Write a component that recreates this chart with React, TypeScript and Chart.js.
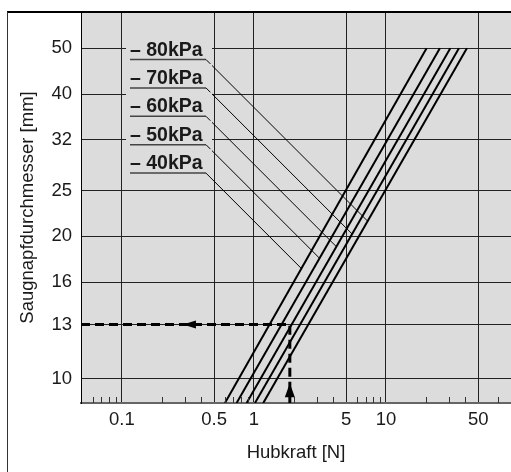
import React, { useEffect, useRef } from "react";
import { Chart, registerables } from "chart.js";

Chart.register(...registerables);

// ---- data ----
const pressureLabels = ["– 40kPa", "– 50kPa", "– 60kPa", "– 70kPa", "– 80kPa"];
const diameterBottom = 8.87; // [mm] lower end of the plotted lines (bottom of the plot)
const diameterTop = 50; // [mm] upper end of the lines
const forceAtBottom = [0.603, 0.739, 0.88, 1.018, 1.176]; // [N]
const forceAtTop = [20.3, 25.6, 30.7, 35.7, 41.0]; // [N]

const xMajorTicks = [0.1, 0.5, 1, 5, 10, 50];
const xTickLabels = ["0.1", "0.5", "1", "5", "10", "50"];
const xMinorTicks = [0.06, 0.07, 0.08, 0.09, 0.2, 0.3, 0.4, 0.6, 0.7, 0.8, 0.9, 2, 3, 4, 6, 7, 8, 9, 20, 30, 40, 70];
const yTicks = [10, 13, 16, 20, 25, 32, 40, 50];
const yTickLabels = ["10", "13", "16", "20", "25", "32", "40", "50"];
const xMin = 0.049;
const xMax = 88.5;
const yMin = 8.87;
const yMax = 59.7;

const exampleDiameter = 13;
const exampleForce = 1.87;
const exampleLeftArrowForce = 0.29;
const exampleUpArrowDiameter = 9.77;

const xTitle = "Hubkraft [N]";
const yTitle = "Saugnapfdurchmesser [mm]";

// ---- styling ----
const FONT = '"Liberation Sans", Arial, sans-serif';
const INK = "#1a1a1a";
const PLOT_BG = "#dcdcdc";

const decor = {
  id: "decor",
  beforeDraw(chart: any) {
    const { ctx, chartArea: a, width, height } = chart;
    ctx.save();
    ctx.fillStyle = "#ffffff";
    ctx.fillRect(0, 0, width, height);
    ctx.fillStyle = PLOT_BG;
    ctx.fillRect(a.left, a.top, a.right - a.left, a.bottom - a.top);
    ctx.restore();
  },
  afterDatasetsDraw(chart: any) {
    const { ctx, chartArea: a, scales } = chart;
    const xs = scales.x;
    const ys = scales.y;
    ctx.save();

    // minor ticks along the bottom, pointing up into the plot
    ctx.strokeStyle = "#333";
    ctx.lineWidth = 1;
    for (const v of xMinorTicks) {
      const px = Math.round(xs.getPixelForValue(v)) + 0.5;
      ctx.beginPath();
      ctx.moveTo(px, a.bottom);
      ctx.lineTo(px, a.bottom - 6);
      ctx.stroke();
    }

    // arrowheads of the reading example
    ctx.fillStyle = "#000";
    const ay = ys.getPixelForValue(exampleDiameter);
    const ax = xs.getPixelForValue(exampleLeftArrowForce);
    ctx.beginPath();
    ctx.moveTo(ax, ay);
    ctx.lineTo(ax + 13, ay - 4);
    ctx.lineTo(ax + 13, ay + 4);
    ctx.closePath();
    ctx.fill();
    const ux = xs.getPixelForValue(exampleForce);
    const uy = ys.getPixelForValue(exampleUpArrowDiameter);
    ctx.beginPath();
    ctx.moveTo(ux, uy);
    ctx.lineTo(ux - 5, uy + 14);
    ctx.lineTo(ux + 5, uy + 14);
    ctx.closePath();
    ctx.fill();

    // pressure labels with leader lines
    const order = [4, 3, 2, 1, 0];
    order.forEach((idx, k) => {
      const uyy = 59.5 + 28.4 * k;
      ctx.fillStyle = PLOT_BG;
      ctx.fillRect(126, uyy - 24, 86, 25);
      ctx.fillStyle = INK;
      ctx.font = `bold 19.5px ${FONT}`;
      ctx.textAlign = "left";
      ctx.textBaseline = "alphabetic";
      ctx.fillText(pressureLabels[idx], 130, uyy - 4);
      ctx.strokeStyle = "#444";
      ctx.lineWidth = 1.5;
      ctx.beginPath();
      ctx.moveTo(130, uyy);
      ctx.lineTo(206, uyy);
      ctx.stroke();
      const x0 = xs.getPixelForValue(forceAtBottom[idx]);
      const y0 = ys.getPixelForValue(diameterBottom);
      const x1 = xs.getPixelForValue(forceAtTop[idx]);
      const y1 = ys.getPixelForValue(diameterTop);
      const m = (x1 - x0) / (y1 - y0);
      const t = (x0 + (uyy - y0) * m - 206) / (1 - m);
      ctx.strokeStyle = "#000";
      ctx.lineWidth = 1;
      ctx.beginPath();
      ctx.moveTo(206, uyy);
      ctx.lineTo(206 + t, uyy + t);
      ctx.stroke();
    });

    // outer frame
    ctx.strokeStyle = "#000";
    ctx.lineWidth = 2;
    ctx.beginPath();
    ctx.moveTo(7, 12);
    ctx.lineTo(chart.width, 12);
    ctx.stroke();
    ctx.strokeStyle = "#333";
    ctx.lineWidth = 1;
    ctx.beginPath();
    ctx.moveTo(7.5, 12);
    ctx.lineTo(7.5, chart.height);
    ctx.stroke();
    ctx.restore();
  },
};

export default function App() {
  const ref = useRef<HTMLCanvasElement | null>(null);

  useEffect(() => {
    if (!ref.current) return;
    const lineSets = pressureLabels.map((label, i) => ({
      label,
      data: [
        { x: forceAtBottom[i], y: diameterBottom },
        { x: forceAtTop[i], y: diameterTop },
      ],
      borderColor: "#000",
      borderWidth: 2,
      pointRadius: 0,
      clip: 0,
    }));
    const example = {
      label: "example",
      data: [
        { x: xMin, y: exampleDiameter },
        { x: exampleForce, y: exampleDiameter },
        { x: exampleForce, y: yMin },
      ],
      borderColor: "#000",
      borderWidth: 3,
      borderDash: [9, 5],
      pointRadius: 0,
      clip: 0,
    };

    const chart = new Chart(ref.current, {
      type: "line",
      data: { datasets: [...lineSets, example] as any },
      plugins: [decor as any],
      options: {
        responsive: false,
        maintainAspectRatio: false,
        animation: false,
        layout: { padding: { left: 0, right: 0, top: 12, bottom: 0 } },
        plugins: { legend: { display: false }, tooltip: { enabled: false } },
        scales: {
          x: {
            type: "logarithmic",
            min: xMin,
            max: xMax,
            afterBuildTicks: (s: any) => {
              s.ticks = xMajorTicks.map((v) => ({ value: v }));
            },
            afterFit: (s: any) => {
              s.height = 69;
              s.paddingLeft = 0;
              s.paddingRight = 0;
            },
            grid: { color: "#222", lineWidth: 1, drawTicks: false },
            border: { display: true, color: "#666", width: 2 },
            ticks: {
              autoSkip: false,
              maxRotation: 0,
              padding: 6,
              color: INK,
              font: { family: FONT, size: 18.5 },
              callback: (_v: any, i: number) => xTickLabels[i],
            },
            title: {
              display: true,
              text: xTitle,
              color: INK,
              font: { family: FONT, size: 18.5 },
              padding: { top: 0, bottom: 8 },
            },
          },
          y: {
            type: "logarithmic",
            min: yMin,
            max: yMax,
            afterBuildTicks: (s: any) => {
              s.ticks = yTicks.map((v) => ({ value: v }));
            },
            afterFit: (s: any) => {
              s.width = 81;
              s.paddingTop = 0;
              s.paddingBottom = 0;
            },
            grid: { color: "#222", lineWidth: 1, drawTicks: false },
            border: { display: true, color: "#000", width: 1 },
            ticks: {
              autoSkip: false,
              padding: 9,
              color: INK,
              font: { family: FONT, size: 18.5 },
              callback: (_v: any, i: number) => yTickLabels[i],
            },
            title: {
              display: true,
              text: yTitle,
              color: INK,
              font: { family: FONT, size: 18.5 },
              padding: { top: 17, bottom: 0 },
            },
          },
        },
      } as any,
    });
    return () => chart.destroy();
  }, []);

  return (
    <div style={{ position: "absolute", left: 0, top: 0, width: 511, height: 472 }}>
      <canvas ref={ref} width={511} height={472} style={{ display: "block", width: 511, height: 472 }} />
    </div>
  );
}
